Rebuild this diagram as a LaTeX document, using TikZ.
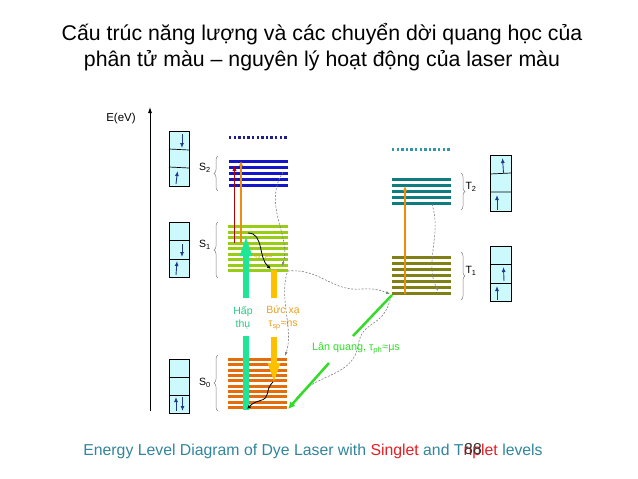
\documentclass[tikz,border=0pt]{standalone}
\usepackage{fontspec}
\setmainfont{Liberation Sans}
\usetikzlibrary{arrows.meta,decorations.pathreplacing}

\definecolor{boxcyan}{RGB}{204,250,252}
\definecolor{spinblue}{RGB}{31,56,140}
\definecolor{sTwo}{RGB}{20,20,200}
\definecolor{sTwoDot}{RGB}{30,30,140}
\definecolor{sOne}{RGB}{153,204,20}
\definecolor{sZero}{RGB}{228,108,10}
\definecolor{tTwo}{RGB}{15,125,128}
\definecolor{tTwoDot}{RGB}{50,150,170}
\definecolor{tOne}{RGB}{128,128,20}
\definecolor{absgreen}{RGB}{30,230,150}
\definecolor{emigold}{RGB}{255,192,0}
\definecolor{phosgreen}{RGB}{50,220,40}
\definecolor{absText}{RGB}{40,200,130}
\definecolor{emiText}{RGB}{232,160,30}
\definecolor{capteal}{RGB}{49,133,156}
\definecolor{capred}{RGB}{227,30,36}
\definecolor{darkred}{RGB}{185,0,0}
\definecolor{thinorange}{RGB}{235,140,10}

\tikzset{
  spinbox/.style={draw, fill=boxcyan, line width=0.7pt},
  spin/.style={spinblue, line width=0.9pt, -{Latex[length=5pt,width=4pt]}},
  levelbar/.style={line width=3.2pt},
  wiggle/.style={gray, line width=0.6pt, dash pattern=on 2pt off 1.5pt, -{Latex[length=4pt,width=3pt]}},
  lbl/.style={font=\fontsize{10.5}{12}\selectfont, inner sep=0pt},
  brc/.style={gray, line width=0.5pt, decorate, decoration={brace, amplitude=4pt}},
  thinup/.style={line width=1.2pt, -{Latex[length=5pt,width=4.5pt]}},
}

\begin{document}
\begin{tikzpicture}[x=1pt, y=-1pt]
  \useasboundingbox (0,0) rectangle (638,479);

  % Title
  \node[font=\fontsize{21.3}{26}\selectfont, align=center] (title) at (322,47)
    {Cấu trúc năng lượng và các chuyển dời quang học của\\phân tử màu – nguyên lý hoạt động của laser màu};

  % Energy axis
  \draw[-{Latex[length=6pt,width=4pt]}, line width=0.8pt] (150,411) -- (150,107);
  \node[lbl, font=\fontsize{11.5}{13}\selectfont] (eaxis) at (121,119) {E(eV)};

  % Spin boxes, singlet side
  \draw[spinbox] (169,131) rectangle (189,186);
  \draw[line width=0.7pt] (169,149) -- (189,150) (169,167) -- (189,168);
  \draw[spin] (182,134) -- (182,148);
  \draw[spin] (176,184) -- (177.5,171);

  \draw[spinbox] (169,222) rectangle (189,277);
  \draw[line width=0.7pt] (169,240.5) -- (189,240.5) (169,259) -- (189,259);
  \draw[spin] (182,244) -- (182,257);
  \draw[spin] (176,275) -- (177,261);

  \draw[spinbox] (169,359) rectangle (189,413);
  \draw[line width=0.7pt] (169,377) -- (189,377) (169,395) -- (189,395);
  \draw[spin] (176,411) -- (176,397);
  \draw[spin] (182.5,397) -- (182.5,411);

  % Spin boxes, triplet side
  \draw[spinbox] (490,155) rectangle (511,211);
  \draw[line width=0.7pt] (490,174) -- (511,173) (490,192) -- (511,192);
  \draw[spin] (503.5,173) -- (502.5,158);
  \draw[spin] (497,210) -- (497,195);

  \draw[spinbox] (490,246) rectangle (511,301);
  \draw[line width=0.7pt] (490,264) -- (511,264) (490,283) -- (511,283);
  \draw[spin] (504,281) -- (503.5,267);
  \draw[spin] (497,300) -- (497,286);

  % Braces and state labels
  \draw[brc] (218,191) -- (218,156);
  \draw[brc] (218,278) -- (218,222);
  \draw[brc] (218,411) -- (218,355);
  \draw[brc] (461,173) -- (461,210);
  \draw[brc] (461,252) -- (461,300);
  \node[lbl] (s2) at (205,168) {S\textsubscript{2}};
  \node[lbl] (s1) at (205,245) {S\textsubscript{1}};
  \node[lbl] (s0) at (205,383) {S\textsubscript{0}};
  \node[lbl] (t2) at (471,187) {T\textsubscript{2}};
  \node[lbl] (t1) at (471,271) {T\textsubscript{1}};

  % Levels S2
  \draw[sTwoDot, line width=2.2pt, dash pattern=on 2.4pt off 2.2pt] (229,137.5) -- (288,137.5);
  \foreach \y in {161.5,167.5,173.5,179.5,185.5}
    \draw[levelbar, sTwo, line width=3.8pt] (229,\y) -- (288,\y);

  % Levels S1
  \foreach \y in {226.5,232,237.5,243,248.5,254,259.5,265,270.5}
    \draw[levelbar, sOne, line width=3pt] (228,\y) -- (288,\y);

  % Levels S0
  \foreach \y in {359,364.5,370,375.3,380.6,386,391.3,396.6,402,407.5}
    \draw[levelbar, sZero, line width=3pt] (228,\y) -- (287,\y);

  % Levels T2
  \draw[tTwoDot, line width=2.2pt, dash pattern=on 2.4pt off 2.2pt] (392,149.5) -- (451,149.5);
  \foreach \y in {179.3,185.3,191.3,197.3,203.3}
    \draw[levelbar, tTwo, line width=3.6pt] (392,\y) -- (451,\y);

  % Levels T1
  \foreach \y in {257.3,263.3,269.3,275.3,281.3,287.3,293.3}
    \draw[levelbar, tOne, line width=3.4pt] (392,\y) -- (451,\y);

  % Excited state absorption S1 -> S2
  \draw[thinup, darkred] (234.5,243) -- (234.5,166);
  \draw[thinup, thinorange] (241,243) -- (241,161);

  % Nonradiative relaxation inside S1
  \node[font=\fontsize{7}{8}\selectfont, text=emiText, inner sep=0pt] (tnr) at (263,256) {τ\textsubscript{nr}≈ps};
  \draw[black, line width=0.8pt, -{Latex[length=4pt,width=3.5pt]}] (248,233) .. controls (264,233) and (258,258) .. (271,269);

  % Absorption (Hap thu)
  \coordinate (absbot) at (246,410);
  \coordinate (absgap) at (246,336);
  \coordinate (absup) at (246,298);
  \coordinate (abstip) at (246,232);
  \draw[absgreen, line width=6pt] (absbot) -- (absgap);
  \draw[absgreen, line width=6pt, -{Triangle[length=24pt,width=10pt]}] (absup) -- (abstip);
  \node[font=\fontsize{10.5}{13}\selectfont, text=absText, align=center, inner sep=0pt] (absLabel) at (243,318) {Hấp\\thụ};

  % Emission (Buc xa)
  \coordinate (emitop) at (274,270);
  \coordinate (emigap) at (274,298);
  \coordinate (emilow) at (274,337);
  \coordinate (emitip) at (274,383);
  \draw[emigold, line width=6pt] (emitop) -- (emigap);
  \draw[emigold, line width=6pt, -{Triangle[length=20pt,width=11pt]}] (emilow) -- (emitip);
  \node[font=\fontsize{10.5}{13}\selectfont, text=emiText, align=center, inner sep=0pt] (emiLabel) at (283,318) {Bức xạ\\τ\textsubscript{sp}≈ns};

  % Vibrational relaxation in S0
  \draw[black, line width=0.8pt, -{Latex[length=4pt,width=3.5pt]}] (273,382) .. controls (264,390) and (272,398) .. (259,401) .. controls (252,403) and (250,406) .. (247,409);

  % Internal conversion and intersystem crossing
  \draw[wiggle] (283,172) .. controls (262,205) and (292,238) .. (282,266);
  \draw[wiggle] (288,271) .. controls (320,268) and (332,292) .. (362,289) .. controls (376,288) and (382,291) .. (390,294);
  \draw[wiggle] (287,273) .. controls (279,300) and (294,330) .. (285,356);
  \draw[wiggle] (432,204) .. controls (442,235) and (424,262) .. (438,291);
  \draw[wiggle] (391,296) .. controls (384,330) and (362,318) .. (358,346) .. controls (352,380) and (310,372) .. (291,407);

  % T1 -> T2 absorption
  \draw[thinup, thinorange] (405,294) -- (405,186);

  % Phosphorescence (Lan quang)
  \coordinate (phtop) at (392,295);
  \coordinate (phgap) at (353,336);
  \coordinate (phlow) at (329,363);
  \coordinate (phtip) at (288,409);
  \draw[phosgreen, line width=2.5pt] (phtop) -- (phgap);
  \draw[phosgreen, line width=2.5pt, -{Latex[length=7pt,width=7pt]}] (phlow) -- (phtip);
  \node[font=\fontsize{10.8}{12}\selectfont, text=phosgreen, inner sep=0pt] (phLabel) at (356,348) {Lân quang, τ\textsubscript{ph}≈μs};

  % Caption
  \node[font=\fontsize{15.8}{18}\selectfont, text=capteal, inner sep=0pt] (caption) at (313,451)
    {Energy Level Diagram of Dye Laser with \textcolor{capred}{Singlet} and T\textcolor{capred}{riplet} levels};
  \node[font=\fontsize{15.8}{18}\selectfont, text=black!80, inner sep=0pt] (pagenum) at (473,449) {88};
\end{tikzpicture}
\end{document}
